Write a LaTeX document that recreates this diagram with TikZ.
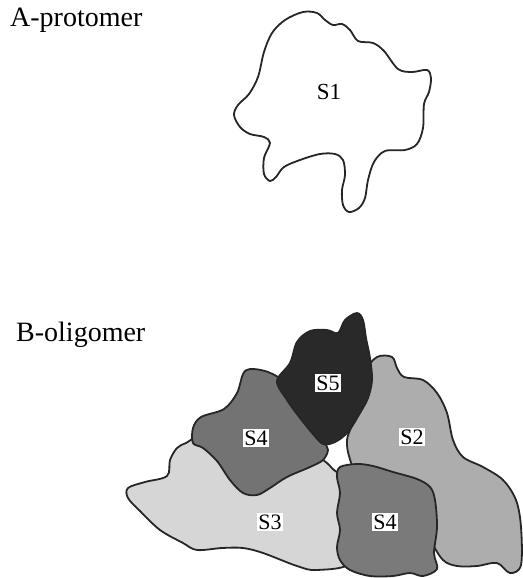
\documentclass[tikz,border=0pt]{standalone}
\usepackage{fontspec}
\setmainfont{Liberation Serif}
\begin{document}
\begin{tikzpicture}[x=1pt,y=-1pt,
  outline/.style={draw=black!85,line width=1.8pt,line join=round},
  sub/.style={outline,smooth cycle,tension=0.55},
  title/.style={anchor=base west,font=\fontsize{28}{30}\selectfont,inner sep=0pt},
  tag/.style={fill=white,inner sep=1.5pt,font=\fontsize{22}{22}\selectfont},
  plain/.style={inner sep=0pt,font=\fontsize{23}{23}\selectfont}]
\useasboundingbox (0,0) rectangle (522,578);

% headings
\node[title] (ta) at (10,27) {A-protomer};
\node[title] (tb) at (16,341) {B-oligomer};

% A-protomer: single S1 subunit
\draw[sub,fill=white] plot coordinates {
  (303,12) (317,13) (325,20) (333,25) (342,24) (350,30) (358,41) (373,43)
  (384,51) (398,69) (412,72) (427,70) (431,78) (429,92) (424,104) (423,128)
  (417,144) (405,150) (385,151) (374,162) (368,180) (365,198) (359,208)
  (349,212) (343,205) (342,190) (345,175) (343,160) (335,154) (320,154)
  (300,160) (284,167) (276,177) (270,181) (264,174) (264,158) (270,143)
  (264,137) (250,134) (240,127) (234,115) (238,105) (249,94) (258,77)
  (264,52) (272,33) (285,20)};
\node[plain] (s1) at (329,92) {S1};

% B-oligomer: S3 and S2 lie underneath
\draw[sub,fill=black!16] plot coordinates {
  (186,443) (177,448) (170,460) (167,476) (145,482) (128,488) (128,498)
  (140,511) (160,530) (183,543) (197,550) (222,548) (243,548) (263,553)
  (297,566) (317,570) (352,562) (356,520) (352,485) (334,470) (327,463)
  (318,458) (290,452) (235,452) (200,438)};
\draw[sub,fill=black!32] plot coordinates {
  (377,357) (392,357) (397,368) (404,377) (423,380) (437,393) (447,413)
  (453,440) (463,457) (483,467) (503,480) (516,500) (521,527) (521,565)
  (510,573) (497,563) (477,566) (457,566) (443,560) (430,540) (415,515)
  (385,490) (357,472) (349,456) (347,440) (352,425) (362,398) (365,372)};

% S4 (upper) and S4 (lower)
\draw[sub,fill=black!55] plot coordinates {
  (250,369) (243,374) (237,393) (224,409) (201,417) (193,428) (193,443)
  (203,448) (217,461) (230,480) (243,493) (257,495) (270,488) (287,477)
  (310,467) (323,460) (328,450) (324,442) (316,428) (300,405) (288,386)
  (278,377) (265,371)};
\draw[sub,fill=black!52] plot coordinates {
  (340,467) (357,464) (373,466) (393,472) (417,479) (430,487) (435,500)
  (437,527) (434,553) (437,569) (423,576) (410,573) (393,576) (370,576)
  (350,570) (340,560) (337,547) (340,530) (337,513) (340,493) (337,477)};

% S5 on top
\draw[sub,fill=black!84] plot coordinates {
  (357,313) (363,320) (366,338) (370,358) (372,380) (368,398) (360,413)
  (348,432) (335,442) (323,444) (313,434) (300,418) (287,400) (277,381)
  (290,363) (297,342) (310,331) (327,330) (338,333) (345,320)};

% subunit labels
\node[tag] (s5) at (328,383) {S5};
\node[tag] (s4a) at (256,438) {S4};
\node[tag] (s2) at (412,437) {S2};
\node[tag] (s3) at (270,522) {S3};
\node[tag] (s4b) at (385,522) {S4};
\end{tikzpicture}
\end{document}
